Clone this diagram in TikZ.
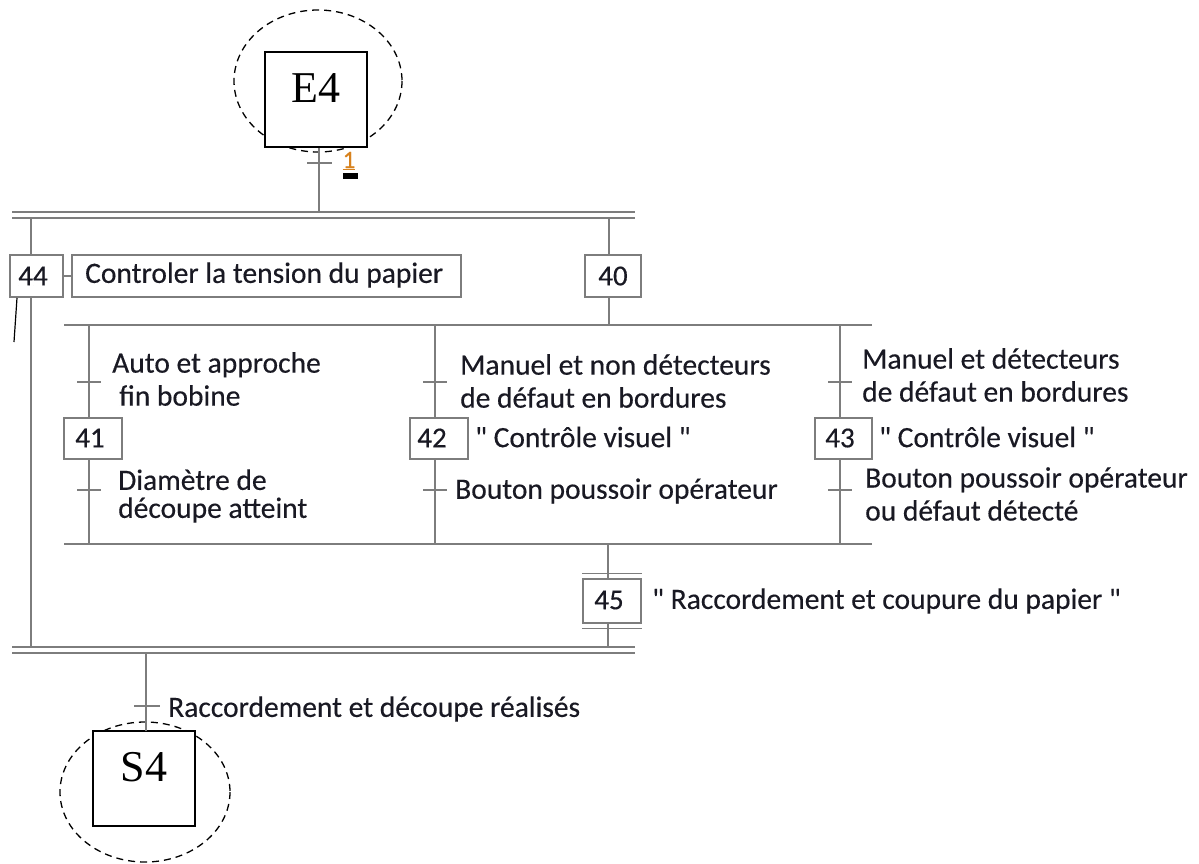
\documentclass[tikz,border=0pt]{standalone}
\usepackage{fontspec}
\setmainfont{Carlito}
\newfontfamily\lblfont{Carlito}[FakeBold=0.35]
\newfontfamily\serifE{Liberation Serif}
\usetikzlibrary{shapes.geometric}
\definecolor{gl}{RGB}{125,125,125}
\definecolor{orng}{RGB}{215,130,30}
\definecolor{txt}{RGB}{25,25,35}
\newcommand{\dq}{\symbol{34}}
\tikzset{
  gline/.style={draw=gl,line width=1.3pt},
  stepbox/.style={draw=gl,fill=white,line width=1.3pt,minimum width=57pt,minimum height=42pt,inner sep=0pt},
  steptxt/.style={inner sep=0pt,text=txt,font=\lblfont\fontsize{29}{33}\selectfont},
  lbl/.style={inner sep=0pt,anchor=west,align=left,text=txt,font=\lblfont\fontsize{29.5}{33}\selectfont},
  portbox/.style={draw=black,fill=white,line width=1.3pt,minimum width=102pt,minimum height=95pt,inner sep=0pt},
  porttxt/.style={inner sep=0pt,font=\serifE\fontsize{44}{48}\selectfont},
  dcirc/.style={draw=black,line width=1.3pt,dash pattern=on 7pt off 5pt},
}
\begin{document}
\begin{tikzpicture}[x=1pt,y=-1pt]
\useasboundingbox (0,0) rectangle (1199,863);
% dashed circles
\draw[dcirc] (318,81) ellipse [x radius=84, y radius=71];
\draw[dcirc] (145,792) ellipse [x radius=85, y radius=70];
% coordinates
\coordinate (b1a) at (12,212); \coordinate (b1b) at (635,212);
\coordinate (b2a) at (12,218); \coordinate (b2b) at (635,218);
\coordinate (b3a) at (12,647); \coordinate (b3b) at (635,647);
\coordinate (b4a) at (12,653); \coordinate (b4b) at (635,653);
\coordinate (o1a) at (64,325); \coordinate (o1b) at (872,325);
\coordinate (o2a) at (64,544); \coordinate (o2b) at (872,544);
% double bars
\draw[gline] (b1a) -- (b1b);
\draw[gline] (b2a) -- (b2b);
\draw[gline] (b3a) -- (b3b);
\draw[gline] (b4a) -- (b4b);
% OR bars
\draw[gline] (o1a) -- (o1b);
\draw[gline] (o2a) -- (o2b);
% E4
\node[portbox] (e4) at (316,99.5) {};
\node[porttxt] (e4t) at (316,88) {E4};
\coordinate (t1) at (319,163);
\draw[gline] (319,147.5) -- (t1) -- (319,212);
\draw[gline] ([xshift=-12pt]t1) -- ([xshift=13pt]t1);
\node[inner sep=0pt,text=orng,font=\lblfont\fontsize{25}{27}\selectfont] (lab1) at (349,161) {\underline{1}};
\fill[black] (343,173) rectangle (358,179);
% step 44
\node[stepbox,minimum width=53pt] (s44) at (36.5,276) {};
\node[steptxt] (s44t) at (33,276) {44};
\node[stepbox,minimum width=389pt] (a44) at (266.5,276) {};
\node[lbl] (a44t) at (85,275) {Controler la tension du papier};
\draw[gline] (s44.east) -- (a44.west);
\draw[gline] (31,218) -- (31,255);
\draw[gline] (31,297) -- (31,647);
\draw[black,line width=1.2pt] (17,298) -- (14,342);
% step 40
\node[stepbox,minimum width=56pt] (s40) at (613,276) {};
\node[steptxt] (s40t) at (613,276) {40};
\draw[gline] (609,218) -- (609,255);
\draw[gline] (609,297) -- (609,325);
% branch 41
\node[stepbox,minimum width=58pt,minimum height=41pt] (s41) at (93,438.5) {};
\node[steptxt] (s41t) at (90,438) {41};
\draw[gline] (89,325) -- (89,418);
\draw[gline] (89,459) -- (89,544);
\draw[gline] (77,382) -- (101,382);
\draw[gline] (77,490) -- (101,490);
\node[lbl] (l41a) at (112,379) {Auto et approche\\\hspace{7pt}fin bobine};
\node[lbl] (l41b) at (118,496) {Diamètre de\\[-5pt]découpe atteint};
% branch 42
\node[stepbox,minimum width=58pt,minimum height=41pt] (s42) at (439,438.5) {};
\node[steptxt] (s42t) at (432,438) {42};
\draw[gline] (435,325) -- (435,418);
\draw[gline] (435,459) -- (435,544);
\draw[gline] (423,382) -- (447,382);
\draw[gline] (423,490) -- (447,490);
\node[lbl] (l42a) at (460,381) {Manuel et non détecteurs\\de défaut en bordures};
\node[lbl] (l42b) at (475,437) {\dq{} Contrôle visuel \dq};
\node[lbl] (l42c) at (455,491) {Bouton poussoir opérateur};
% branch 43
\node[stepbox,minimum width=57pt,minimum height=41pt] (s43) at (843.5,438.5) {};
\node[steptxt] (s43t) at (840,438) {43};
\draw[gline] (840,325) -- (840,418);
\draw[gline] (840,459) -- (840,544);
\draw[gline] (828,382) -- (852,382);
\draw[gline] (828,490) -- (852,490);
\node[lbl] (l43a) at (862,375) {Manuel et détecteurs\\de défaut en bordures};
\node[lbl] (l43b) at (879,437) {\dq{} Contrôle visuel \dq};
\node[lbl] (l43c) at (865,494) {Bouton poussoir opérateur\\ou défaut détecté};
% step 45
\node[stepbox,minimum width=58pt,minimum height=44pt] (s45) at (612,601) {};
\draw[gl,line width=1.3pt] ([yshift=5pt]s45.north west) -- ([yshift=5pt]s45.north east);
\draw[gl,line width=1.3pt] ([yshift=-5pt]s45.south west) -- ([yshift=-5pt]s45.south east);
\node[steptxt] (s45t) at (609,600) {45};
\node[lbl] (l45) at (652,601) {\dq{} Raccordement et coupure du papier \dq};
\draw[gline] (608,544) -- (608,579);
\draw[gline] (608,623) -- (608,647);
% output
\node[portbox] (s4) at (144,778.5) {};
\node[porttxt] (s4t) at (144,767) {S4};
\draw[gline] (146,653) -- (146,731);
\draw[gline] (134,706) -- (160,706);
\node[lbl] (lout) at (168,709) {Raccordement et découpe réalisés};
\end{tikzpicture}
\end{document}
